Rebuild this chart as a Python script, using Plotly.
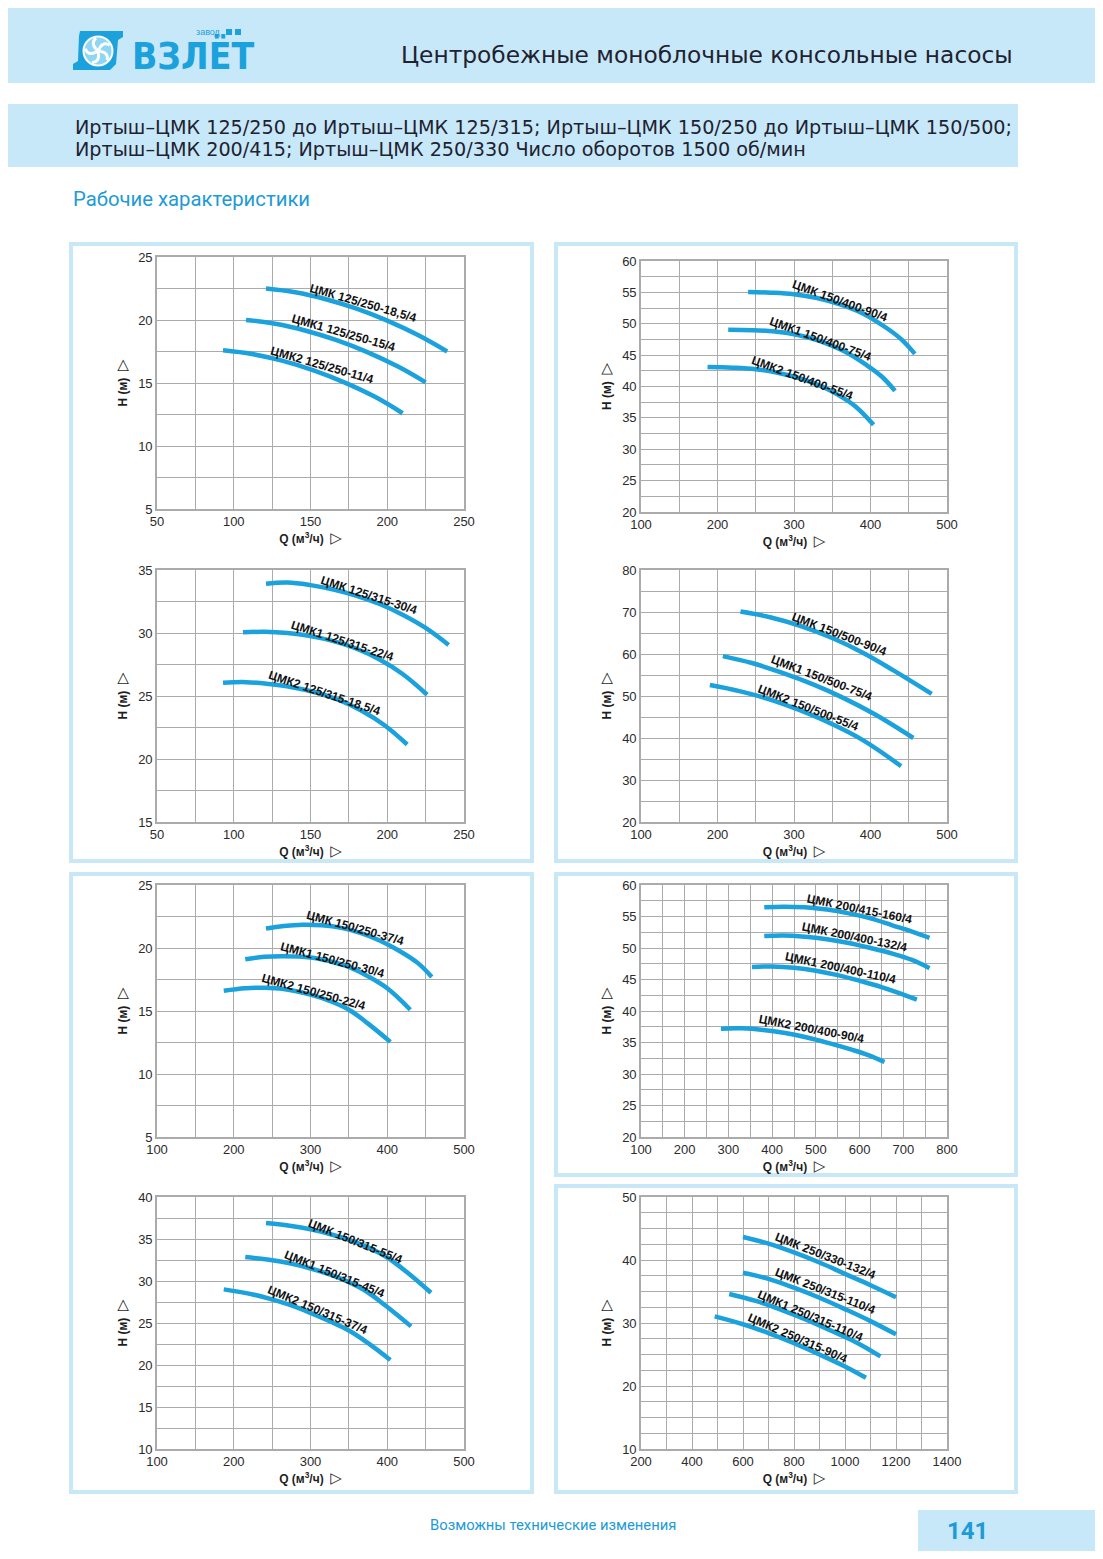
import math
import plotly.graph_objects as go

# --- curve data (Q in m3/h, H in m) ---

names_125_250 = ['ЦМК 125/250-18,5/4', 'ЦМК1 125/250-15/4', 'ЦМК2 125/250-11/4']
q_125_250 = [
    [121, 140, 160, 180, 200, 220, 239],
    [108, 127, 147, 167, 187, 207, 225],
    [93, 112, 132, 152, 172, 192, 210],
]
h_125_250 = [
    [22.5, 22.2, 21.65, 20.9, 19.95, 18.8, 17.5],
    [20.0, 19.7, 19.15, 18.4, 17.45, 16.3, 15.05],
    [17.6, 17.3, 16.75, 16.0, 15.05, 13.9, 12.6],
]

names_150_400 = ['ЦМК 150/400-90/4', 'ЦМК1 150/400-75/4', 'ЦМК2 150/400-55/4']
q_150_400 = [
    [240, 270, 300, 330, 360, 390, 420, 440, 458],
    [214, 245, 275, 305, 335, 365, 395, 415, 432],
    [187, 220, 250, 280, 310, 340, 360, 380, 404],
]
h_150_400 = [
    [55.05, 54.95, 54.7, 54.1, 53.1, 51.65, 49.4, 47.55, 45.2],
    [49.05, 48.98, 48.75, 48.2, 47.2, 45.65, 43.4, 41.55, 39.3],
    [43.1, 43.0, 42.75, 42.15, 41.2, 39.8, 38.5, 36.85, 33.9],
]

names_125_315 = ['ЦМК 125/315-30/4', 'ЦМК1 125/315-22/4', 'ЦМК2 125/315-18,5/4']
q_125_315 = [
    [121, 135, 150, 165, 180, 195, 210, 225, 240],
    [106, 120, 135, 150, 165, 180, 195, 210, 226],
    [93, 108, 123, 138, 153, 168, 183, 198, 213],
]
h_125_315 = [
    [33.9, 34.0, 33.8, 33.45, 32.95, 32.3, 31.45, 30.4, 29.05],
    [30.05, 30.1, 30.0, 29.75, 29.35, 28.75, 27.9, 26.75, 25.1],
    [26.05, 26.1, 25.95, 25.7, 25.3, 24.7, 23.85, 22.7, 21.15],
]

names_150_500 = ['ЦМК 150/500-90/4', 'ЦМК1 150/500-75/4', 'ЦМК2 150/500-55/4']
q_150_500 = [
    [230, 270, 310, 350, 390, 430, 480],
    [207, 245, 285, 325, 365, 405, 456],
    [190, 230, 270, 310, 350, 390, 440],
]
h_150_500 = [
    [70.1, 68.7, 66.6, 63.8, 60.3, 56.1, 50.5],
    [59.5, 57.85, 55.5, 52.75, 49.5, 45.7, 40.0],
    [52.6, 51.1, 49.1, 46.45, 43.3, 39.5, 33.3],
]

names_150_250 = ['ЦМК 150/250-37/4', 'ЦМК1 150/250-30/4', 'ЦМК2 150/250-22/4']
q_150_250 = [
    [242, 265, 290, 315, 340, 365, 390, 415, 440, 458],
    [215, 240, 265, 300, 325, 350, 375, 400, 430],
    [187, 215, 240, 265, 300, 325, 350, 375, 404],
]
h_150_250 = [
    [21.55, 21.75, 21.85, 21.8, 21.6, 21.2, 20.6, 19.8, 18.8, 17.7],
    [19.1, 19.3, 19.35, 19.25, 18.95, 18.5, 17.75, 16.8, 15.1],
    [16.6, 16.8, 16.85, 16.75, 16.3, 15.8, 15.1, 14.0, 12.55],
]

names_200_400 = ['ЦМК 200/415-160/4', 'ЦМК 200/400-132/4', 'ЦМК1 200/400-110/4', 'ЦМК2 200/400-90/4']
q_200_400 = [
    [382, 425, 475, 525, 575, 625, 675, 720, 760],
    [382, 425, 475, 525, 575, 625, 675, 720, 760],
    [354, 400, 450, 500, 550, 600, 650, 700, 731],
    [283, 330, 380, 430, 480, 530, 580, 620, 657],
]
h_200_400 = [
    [56.45, 56.55, 56.45, 56.1, 55.5, 54.7, 53.6, 52.6, 51.6],
    [51.9, 52.0, 51.8, 51.4, 50.8, 50.0, 49.1, 48.1, 46.8],
    [47.0, 47.05, 46.85, 46.4, 45.7, 44.8, 43.8, 42.6, 41.8],
    [37.2, 37.25, 37.0, 36.5, 35.8, 34.9, 33.9, 33.0, 31.9],
]

names_150_315 = ['ЦМК 150/315-55/4', 'ЦМК1 150/315-45/4', 'ЦМК2 150/315-37/4']
q_150_315 = [
    [242, 275, 300, 325, 350, 375, 400, 425, 457],
    [215, 248, 273, 298, 323, 348, 373, 398, 431],
    [187, 225, 250, 275, 300, 325, 350, 375, 404],
]
h_150_315 = [
    [36.9, 36.55, 36.15, 35.6, 34.9, 34.0, 32.8, 31.1, 28.6],
    [32.85, 32.5, 32.1, 31.55, 30.85, 29.95, 28.75, 27.05, 24.6],
    [29.0, 28.4, 27.8, 27.1, 26.2, 25.2, 24.1, 22.6, 20.6],
]

names_250_330 = ['ЦМК 250/330-132/4', 'ЦМК 250/315-110/4', 'ЦМК1 250/315-110/4', 'ЦМК2 250/315-90/4']
q_250_330 = [
    [600, 700, 800, 900, 1000, 1100, 1200],
    [600, 700, 800, 900, 1000, 1100, 1200],
    [546, 650, 750, 850, 950, 1050, 1139],
    [489, 600, 700, 800, 900, 1000, 1082],
]
h_250_330 = [
    [43.65, 42.6, 41.2, 39.6, 37.8, 36.0, 34.1],
    [38.0, 37.0, 35.6, 34.0, 32.2, 30.3, 28.2],
    [34.6, 33.5, 32.1, 30.5, 28.7, 26.8, 24.7],
    [31.05, 29.8, 28.4, 26.8, 25.0, 23.1, 21.3],
]

x_title = '<b>Q (м<sup>3</sup>/ч)</b>  <span style="font-size:15px">▷</span>'
y_title = '<b>H (м)</b>  <span style="font-size:15px">▷</span>'

# --- page geometry (browser pixels; the page body has an 8px margin) ---
W, H = 1087, 1543
OFF = 8

def px(x):
    return (x - OFF) / W

def py(y):
    return 1 - (y - OFF) / H

BAND = '#c7e8f8'
BLUE = '#1ba1dc'
GRID = '#ababab'
TXT_BLUE = '#1e9ad6'

# each chart: data + axis ranges + plot box in page px + label spots (x, y, angle)
charts = [
    dict(q=q_125_250, h=h_125_250, names=names_125_250,
         xr=[50, 250], xd=50, xm=25, yr=[5, 25], yd=5, ym=2.5,
         box=(157, 464, 257, 509),
         lab=[(184.3, 21.35, 16), (171.7, 18.97, 16), (157.2, 16.45, 16)]),
    dict(q=q_150_400, h=h_150_400, names=names_150_400,
         xr=[100, 500], xd=100, xm=50, yr=[20, 60], yd=5, ym=2.5,
         box=(641, 947, 261, 512),
         lab=[(360.6, 53.7, 20), (334.9, 47.57, 20), (310.5, 41.4, 20)]),
    dict(q=q_125_315, h=h_125_315, names=names_125_315,
         xr=[50, 250], xd=50, xm=25, yr=[15, 35], yd=5, ym=2.5,
         box=(157, 464, 570, 822),
         lab=[(187.8, 33.04, 18), (171.1, 29.38, 18), (158.9, 25.23, 18.5)]),
    dict(q=q_150_500, h=h_150_500, names=names_150_500,
         xr=[100, 500], xd=100, xm=50, yr=[20, 80], yd=10, ym=5,
         box=(641, 947, 570, 822),
         lab=[(358.4, 64.74, 21), (336.2, 54.17, 21), (319.6, 47.26, 21.5)]),
    dict(q=q_150_250, h=h_150_250, names=names_150_250,
         xr=[100, 500], xd=100, xm=50, yr=[5, 25], yd=5, ym=2.5,
         box=(157, 464, 885, 1137),
         lab=[(358.3, 21.56, 15.5), (328.7, 19.04, 15), (303.9, 16.47, 15.5)]),
    dict(q=q_200_400, h=h_200_400, names=names_200_400,
         xr=[100, 800], xd=100, xm=50, yr=[20, 60], yd=5, ym=2.5,
         box=(641, 947, 885, 1137),
         lab=[(598.7, 56.19, 11.5), (588.8, 51.73, 11.5), (557.5, 46.75, 12), (490.4, 37.11, 11)]),
    dict(q=q_150_315, h=h_150_315, names=names_150_315,
         xr=[100, 500], xd=100, xm=50, yr=[10, 40], yd=5, ym=2.5,
         box=(157, 464, 1197, 1449),
         lab=[(357.4, 34.72, 22), (330.9, 30.79, 22), (309.6, 26.55, 23)]),
    dict(q=q_250_330, h=h_250_330, names=names_250_330,
         xr=[200, 1400], xd=200, xm=100, yr=[10, 50], yd=10, ym=2.5,
         box=(641, 947, 1197, 1449),
         lab=[(924.2, 40.69, 21.5), (922.9, 35.03, 21.5), (865.4, 31.16, 23), (811.8, 27.57, 23.5)]),
]

fig = go.Figure()
layout = dict(
    width=W, height=H,
    margin=dict(l=0, r=0, t=0, b=0, autoexpand=False),
    paper_bgcolor='white', plot_bgcolor='white',
    showlegend=False,
    font=dict(family='Liberation Sans, Arial, sans-serif', color='#262626'),
)
annotations = []
shapes = []

tick_font = dict(family='Liberation Sans, Arial, sans-serif', size=13, color='#2b2b2b')
title_font = dict(family='Liberation Sans, DejaVu Sans, sans-serif', size=12, color='#1e1e1e')

for i, c in enumerate(charts, start=1):
    sfx = '' if i == 1 else str(i)
    xref, yref = 'x' + sfx, 'y' + sfx
    x0, x1, y0, y1 = c['box']

    for qs, hs in zip(c['q'], c['h']):
        fig.add_trace(go.Scatter(
            x=qs, y=hs, xaxis=xref, yaxis=yref, mode='lines',
            line=dict(color=BLUE, width=4.5, shape='spline', smoothing=1.1),
            hoverinfo='skip',
        ))

    layout['xaxis' + sfx] = dict(
        domain=[px(x0), px(x1)], anchor=yref, range=c['xr'],
        tick0=c['xr'][0], dtick=c['xd'], ticks='',
        showgrid=True, gridcolor=GRID, gridwidth=1.3,
        minor=dict(tick0=c['xr'][0], dtick=c['xm'], showgrid=True, gridcolor=GRID, gridwidth=1.3),
        showline=True, linecolor=GRID, linewidth=1.6, mirror=True,
        zeroline=False, tickfont=tick_font, fixedrange=True, automargin=False,
        title=dict(text=x_title, standoff=3, font=title_font),
    )
    layout['yaxis' + sfx] = dict(
        domain=[py(y1), py(y0)], anchor=xref, range=c['yr'],
        tick0=c['yr'][0], dtick=c['yd'], ticks='',
        showgrid=True, gridcolor=GRID, gridwidth=1.3,
        minor=dict(tick0=c['yr'][0], dtick=c['ym'], showgrid=True, gridcolor=GRID, gridwidth=1.3),
        showline=True, linecolor=GRID, linewidth=1.6, mirror=True,
        zeroline=False, tickfont=tick_font, fixedrange=True, automargin=False,
        title=dict(text=y_title, standoff=8, font=title_font),
    )

    for name, (lx, ly, ang) in zip(c['names'], c['lab']):
        annotations.append(dict(
            x=lx, y=ly, xref=xref, yref=yref, text='<b>' + name + '</b>',
            textangle=ang, showarrow=False,
            font=dict(family='Liberation Sans, Arial, sans-serif', size=12, color='#111111'),
        ))

# light blue frames round the charts
panels = [
    (71, 532, 244, 861),
    (556, 1016, 244, 861),
    (71, 532, 874, 1492),
    (556, 1016, 874, 1175),
    (556, 1016, 1186, 1492),
]
for a, b, t, u in panels:
    shapes.append(dict(type='rect', xref='paper', yref='paper',
                       x0=px(a), x1=px(b), y0=py(u), y1=py(t),
                       line=dict(color='#c8e7f7', width=4), fillcolor='rgba(0,0,0,0)', layer='below'))

# header bands
shapes.append(dict(type='rect', xref='paper', yref='paper', x0=px(0), x1=px(1110),
                   y0=py(83), y1=py(0), line=dict(width=0), fillcolor=BAND, layer='below'))
shapes.append(dict(type='rect', xref='paper', yref='paper', x0=px(0), x1=px(1018),
                   y0=py(167), y1=py(104), line=dict(width=0), fillcolor=BAND, layer='below'))
# page number box
shapes.append(dict(type='rect', xref='paper', yref='paper', x0=px(918), x1=px(1110),
                   y0=py(1565), y1=py(1510), line=dict(width=0), fillcolor=BAND, layer='below'))

# logo icon: volute body, light disc, fan blades
def pth(points):
    return 'M ' + ' L '.join(f'{px(x):.5f},{py(y):.5f}' for x, y in points) + ' Z'

shapes.append(dict(type='path', xref='paper', yref='paper',
                   path=pth([(80, 31), (123, 31), (123, 37), (118, 40), (116, 64), (110, 70),
                             (73, 70), (73, 64), (78, 61), (79, 36)]),
                   fillcolor=BLUE, line=dict(width=0)))
cx, cy, r = 98, 51, 14.5
shapes.append(dict(type='circle', xref='paper', yref='paper',
                   x0=px(cx - r), x1=px(cx + r), y0=py(cy + r), y1=py(cy - r),
                   fillcolor='#8fd6f4', line=dict(color='white', width=2)))
for k in range(5):
    a = math.radians(k * 72 + 10)
    b = math.radians(k * 72 + 45)
    p0 = (cx + 3 * math.cos(a), cy + 3 * math.sin(a))
    p1 = (cx + 13 * math.cos(b), cy + 13 * math.sin(b))
    pc = (cx + 11 * math.cos(a), cy + 11 * math.sin(a))
    path = (f'M {px(p0[0]):.5f},{py(p0[1]):.5f} Q {px(pc[0]):.5f},{py(pc[1]):.5f} '
            f'{px(p1[0]):.5f},{py(p1[1]):.5f}')
    shapes.append(dict(type='path', xref='paper', yref='paper', path=path,
                       line=dict(color='white', width=3)))
shapes.append(dict(type='circle', xref='paper', yref='paper',
                   x0=px(cx - 3), x1=px(cx + 3), y0=py(cy + 3), y1=py(cy - 3),
                   fillcolor='white', line=dict(width=0)))
for sx in (226, 235):
    shapes.append(dict(type='rect', xref='paper', yref='paper', x0=px(sx), x1=px(sx + 6),
                       y0=py(35), y1=py(29), fillcolor=BLUE, line=dict(width=0)))

def page_text(x, y, text, size, color, family, xanchor='left', **kw):
    annotations.append(dict(x=px(x), y=py(y), xref='paper', yref='paper', text=text,
                            showarrow=False, xanchor=xanchor, yanchor='middle',
                            font=dict(size=size, color=color, family=family), **kw))

page_text(130, 56, '<b>ВЗЛЁТ</b>', 37, BLUE,
          'DejaVu Sans Condensed, Liberation Sans Narrow, Liberation Sans, sans-serif')
page_text(223, 32, 'завод', 9, BLUE, 'Liberation Sans, sans-serif', xanchor='right')
page_text(1015, 55, 'Центробежные моноблочные консольные насосы', 23.3, '#1f2230',
          'DejaVu Sans, sans-serif', xanchor='right')
page_text(73, 127, 'Иртыш–ЦМК 125/250 до Иртыш–ЦМК 125/315; Иртыш–ЦМК 150/250 до Иртыш–ЦМК 150/500;',
          19.2, '#1f2230', 'DejaVu Sans, sans-serif')
page_text(73, 150, 'Иртыш–ЦМК 200/415; Иртыш–ЦМК 250/330 Число оборотов 1500 об/мин',
          19.2, '#1f2230', 'DejaVu Sans, sans-serif')
page_text(71, 199, 'Рабочие характеристики', 20.3, TXT_BLUE, 'Roboto, sans-serif')
page_text(428, 1525, 'Возможны технические изменения', 14.8, TXT_BLUE, 'Roboto, sans-serif')
page_text(967, 1531, '<b>141</b>', 24, TXT_BLUE, 'Roboto, sans-serif', xanchor='center')

layout['annotations'] = annotations
layout['shapes'] = shapes
fig.update_layout(**layout)

fig.write_html("out.html")
